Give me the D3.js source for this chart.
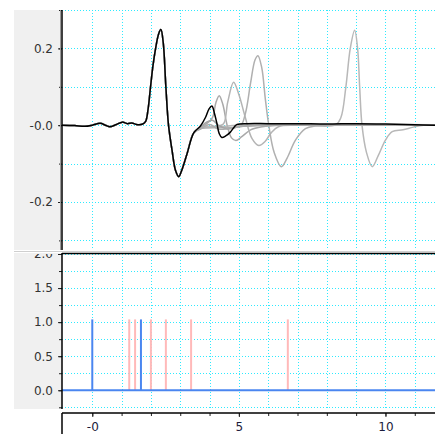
<!DOCTYPE html>
<html>
<head>
<meta charset="utf-8">
<script src="https://cdn.jsdelivr.net/npm/d3@7"></script>
<style>
  html, body { margin: 0; padding: 0; background: #fff; }
  svg { display: block; }
</style>
</head>
<body>
<div id="chart"></div>
<script>
// shared part of every trace: quiet baseline and the main pulse
const mainPulse = [
  [-1.03, 0.0], [-0.6, -0.001], [-0.25, -0.003], [0.0, 0.0], [0.27, 0.005], [0.45, 0.0],
  [0.6, -0.004], [0.8, 0.001], [1.02, 0.008], [1.2, 0.004], [1.35, 0.006], [1.5, 0.002],
  [1.72, 0.003], [1.82, 0.01], [1.9, 0.04], [1.98, 0.095], [2.07, 0.155], [2.16, 0.2],
  [2.26, 0.237], [2.34, 0.249], [2.42, 0.215], [2.51, 0.1], [2.6, 0.0], [2.72, -0.065],
  [2.84, -0.118], [2.95, -0.134], [3.05, -0.118], [3.23, -0.075], [3.46, -0.02]
]

// echoes after the main pulse, one tail per trace
const blackTail = [
  [3.69, -0.002], [3.86, 0.02], [3.98, 0.042], [4.08, 0.05], [4.17, 0.03], [4.25, 0.005],
  [4.33, -0.022], [4.42, -0.032], [4.55, -0.028], [4.71, -0.018], [4.85, -0.004], [4.94, 0.002],
  [5.3, 0.004], [6, 0.004], [7, 0.004], [8, 0.003], [9, 0.004], [10, 0.003], [11, 0.001], [11.69, 0.0]
]
const grayTails = [
  [[3.69, -0.006], [3.9, 0.004], [4.1, 0.02], [4.22, 0.06], [4.33, 0.077], [4.45, 0.055], [4.6, 0.0],
    [4.75, -0.033], [4.9, -0.04], [5.1, -0.03], [5.4, -0.012], [5.8, -0.004], [6.5, 0.0], [8, 0.001],
    [10, 0.0], [11.69, 0.0]],
  [[3.69, -0.008], [4.2, -0.003], [4.47, 0.003], [4.62, 0.06], [4.82, 0.112], [5.0, 0.08], [5.22, 0.02],
    [5.45, -0.035], [5.68, -0.053], [5.9, -0.042], [6.1, -0.02], [6.35, -0.004], [7, 0.0], [9, 0.002],
    [11.69, 0.001]],
  [[3.69, -0.009], [4.5, -0.006], [5.05, -0.002], [5.22, 0.03], [5.4, 0.11], [5.55, 0.17], [5.65, 0.181],
    [5.78, 0.15], [5.9, 0.07], [6.02, 0.0], [6.2, -0.07], [6.45, -0.108], [6.65, -0.085], [6.93, -0.039],
    [7.27, -0.009], [7.6, -0.002], [9, 0.0], [11.69, 0.0]],
  [[3.69, -0.007], [4.3, -0.004], [5, 0.0], [7, 0.001], [8.3, 0.001], [8.48, 0.02], [8.65, 0.1],
    [8.8, 0.2], [8.95, 0.247], [9.05, 0.2], [9.12, 0.1], [9.2, 0.0], [9.35, -0.07], [9.55, -0.108],
    [9.75, -0.08], [10.0, -0.039], [10.23, -0.017], [10.6, -0.012], [10.95, -0.005], [11.3, 0.0], [11.69, 0.0]],
  [[3.69, -0.005], [3.9, 0.008], [4.1, 0.013], [4.3, 0.0], [4.6, -0.01], [5, -0.004], [6, 0.0], [11.69, 0.001]],
  [[3.69, -0.01], [4.0, 0.002], [4.3, -0.01], [4.7, -0.008], [5.2, -0.002], [11.69, 0.0]]
]

// event markers in the lower panel
const blueStems = [0.0, 1.66]
const pinkStems = [1.26, 1.46, 2.0, 2.51, 3.37, 6.67]
const stemHeight = 1.04

const topTicks = [0.2, 0.0, -0.2]
const topTickLabels = ['0.2', '-0.0', '-0.2']
const bottomTicks = [2.0, 1.5, 1.0, 0.5, 0.0]
const bottomTickLabels = ['2.0', '1.5', '1.0', '0.5', '0.0']
const xTicks = [0, 5, 10]
const xTickLabels = ['-0', '5', '10']

const width = 435
const height = 434
const left = 62
const gridColor = '#2eeaff'

const svg = d3.select('#chart').append('svg')
  .attr('width', width)
  .attr('height', height)

const x = d3.scaleLinear().domain([-1.033, 11.69]).range([left, width])
const yTop = d3.scaleLinear().domain([-0.325, 0.3]).range([250, 10])
const yBot = d3.scaleLinear().domain([-0.275, 2.0]).range([409, 254])

const defs = svg.append('defs')
function addClip (id, x0, y0, w, h) {
  defs.append('clipPath').attr('id', id)
    .append('rect').attr('x', x0).attr('y', y0).attr('width', w).attr('height', h)
  return `url(#${id})`
}
const clipTop = addClip('clip-top', left, 10, width - left, 240)
const clipBot = addClip('clip-bot', left, 254, width - left, 155)
const clipBotLabels = addClip('clip-bot-labels', 0, 254, left, 160)

// grey label panels
svg.append('rect').attr('x', 14).attr('y', 10).attr('width', left - 14).attr('height', 240).attr('fill', '#f0f0f0')
svg.append('rect').attr('x', 14).attr('y', 253).attr('width', left - 14).attr('height', 156).attr('fill', '#f0f0f0')

function drawGrid (g, y, yValues, y0, y1) {
  g.selectAll('.hgrid').data(yValues).enter().append('line')
    .attr('x1', left).attr('x2', width)
    .attr('y1', d => Math.round(y(d)) + 0.5).attr('y2', d => Math.round(y(d)) + 0.5)
    .attr('stroke', gridColor).attr('stroke-dasharray', '1,2')
  g.selectAll('.vgrid').data(d3.range(0, 12)).enter().append('line')
    .attr('x1', d => Math.round(x(d)) + 0.5).attr('x2', d => Math.round(x(d)) + 0.5)
    .attr('y1', y0).attr('y2', y1)
    .attr('stroke', gridColor).attr('stroke-dasharray', '1,2')
}

// top panel
const topPanel = svg.append('g').attr('clip-path', clipTop)
drawGrid(topPanel, yTop, d3.range(-3, 4).map(d => d / 10), 10, 250)

const line = d3.line()
  .x(d => x(d[0]))
  .y(d => yTop(d[1]))
  .curve(d3.curveCatmullRom.alpha(0.5))

topPanel.selectAll('.gray-trace').data(grayTails).enter().append('path')
  .attr('class', 'gray-trace')
  .attr('d', d => line(mainPulse.concat(d)))
  .attr('fill', 'none')
  .attr('stroke', (d, i) => ['#a9a9a9', '#b4b4b4', '#b0b0b0', '#b8b8b8', '#a4a4a4', '#ababab'][i])
  .attr('stroke-width', 1.5)

topPanel.append('path')
  .attr('d', line(mainPulse.concat(blackTail)))
  .attr('fill', 'none')
  .attr('stroke', '#000')
  .attr('stroke-width', 1.5)

// bottom panel
const botPanel = svg.append('g').attr('clip-path', clipBot)
drawGrid(botPanel, yBot, d3.range(-1, 9).map(d => d / 4), 254, 409)

botPanel.selectAll('.pink').data(pinkStems).enter().append('line')
  .attr('x1', d => x(d)).attr('x2', d => x(d))
  .attr('y1', yBot(0)).attr('y2', yBot(stemHeight))
  .attr('stroke', '#ffb9b9').attr('stroke-width', 2)
botPanel.selectAll('.blue').data(blueStems).enter().append('line')
  .attr('x1', d => x(d)).attr('x2', d => x(d))
  .attr('y1', yBot(0)).attr('y2', yBot(stemHeight))
  .attr('stroke', '#4a86f0').attr('stroke-width', 2)
botPanel.append('line')
  .attr('x1', left).attr('x2', width)
  .attr('y1', yBot(0)).attr('y2', yBot(0))
  .attr('stroke', '#4a86f0').attr('stroke-width', 2)

// axes
function styleAxis (g) {
  g.select('.domain').remove()
  g.selectAll('line').attr('stroke', '#222')
  g.selectAll('text')
    .attr('fill', '#333')
    .style('font-family', '"DejaVu Sans", Verdana, sans-serif')
    .style('font-size', '12px')
}

svg.append('g').attr('transform', `translate(${left},0)`)
  .call(d3.axisLeft(yTop).tickValues(d3.range(-3, 4).map(d => d / 10)).tickSize(3).tickFormat(''))
  .call(styleAxis)
svg.append('g').attr('transform', `translate(${left},0)`)
  .call(d3.axisLeft(yTop).tickValues(topTicks).tickSize(4).tickPadding(5)
    .tickFormat((d, i) => topTickLabels[i]))
  .call(styleAxis)

// the clip sits on an untransformed wrapper so its rect is in page coordinates
const botAxisWrap = svg.append('g').attr('clip-path', clipBotLabels)
botAxisWrap.append('g').attr('transform', `translate(${left},0)`)
  .call(d3.axisLeft(yBot).tickValues(d3.range(-1, 9).map(d => d / 4)).tickSize(3).tickFormat(''))
  .call(styleAxis)
botAxisWrap.append('g').attr('transform', `translate(${left},0)`)
  .call(d3.axisLeft(yBot).tickValues(bottomTicks).tickSize(4).tickPadding(5)
    .tickFormat((d, i) => bottomTickLabels[i]))
  .call(styleAxis)

svg.append('g').attr('transform', 'translate(0,413)')
  .call(d3.axisBottom(x).tickValues(d3.range(0, 12)).tickSize(3).tickFormat(''))
  .call(styleAxis)
svg.append('g').attr('transform', 'translate(0,413)')
  .call(d3.axisBottom(x).tickValues(xTicks).tickSize(4).tickPadding(5)
    .tickFormat((d, i) => xTickLabels[i]))
  .call(styleAxis)
  .selectAll('text').attr('fill', '#1c1c3c')

// frames
svg.append('line').attr('x1', 60.5).attr('x2', 60.5).attr('y1', 10).attr('y2', 250).attr('stroke', '#9a9a9a')
svg.append('line').attr('x1', 62).attr('x2', 62).attr('y1', 10).attr('y2', 250).attr('stroke', '#000').attr('stroke-width', 1.5)
svg.append('line').attr('x1', 14).attr('x2', width).attr('y1', 251.5).attr('y2', 251.5).attr('stroke', '#cfcfcf')
svg.append('line').attr('x1', left).attr('x2', width).attr('y1', 253.5).attr('y2', 253.5).attr('stroke', '#000').attr('stroke-width', 1.5)
svg.append('line').attr('x1', 62).attr('x2', 62).attr('y1', 253).attr('y2', 409).attr('stroke', '#000').attr('stroke-width', 1.5)
svg.append('line').attr('x1', left).attr('x2', width).attr('y1', 413).attr('y2', 413).attr('stroke', '#000').attr('stroke-width', 1.5)
svg.append('line').attr('x1', 62).attr('x2', 62).attr('y1', 413).attr('y2', height).attr('stroke', '#000').attr('stroke-width', 1.5)
</script>
</body>
</html>
